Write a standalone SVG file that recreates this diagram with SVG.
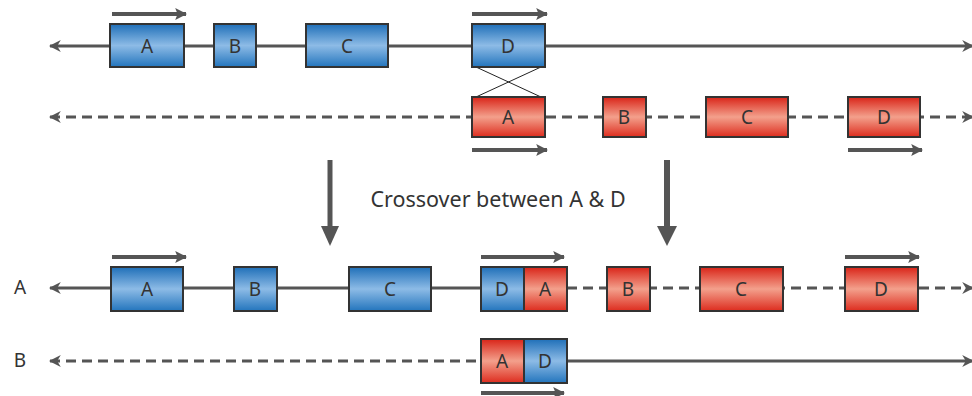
<svg xmlns="http://www.w3.org/2000/svg" width="972" height="396" viewBox="0 0 972 396">
  <defs>
    <linearGradient id="blueFill" x1="0" y1="0" x2="0" y2="1">
      <stop offset="0" stop-color="#1f6fb8"/>
      <stop offset="0.5" stop-color="#8dbbe6"/>
      <stop offset="1" stop-color="#2375bd"/>
    </linearGradient>
    <linearGradient id="redFill" x1="0" y1="0" x2="0" y2="1">
      <stop offset="0" stop-color="#d92418"/>
      <stop offset="0.5" stop-color="#f3a08c"/>
      <stop offset="1" stop-color="#dd2c1e"/>
    </linearGradient>
    <marker id="lineHead" viewBox="0 0 10 10" refX="9" refY="5" markerWidth="4" markerHeight="4" orient="auto-start-reverse" markerUnits="strokeWidth">
      <path d="M0,0 L10,5 L0,10 L3,5 Z" fill="#555"/>
    </marker>
    <marker id="dirHead" viewBox="0 0 10 10" refX="9" refY="5" markerWidth="3" markerHeight="3" orient="auto" markerUnits="strokeWidth">
      <path d="M0,0 L10,5 L0,10 L2,5 Z" fill="#555"/>
    </marker>
  </defs>
  <style>
    .strand { stroke: #555; stroke-width: 3; fill: none; }
    .dashed { stroke-dasharray: 10 6; }
    .dir { stroke: #555; stroke-width: 4; fill: none; marker-end: url(#dirHead); }
    .blue { fill: url(#blueFill); stroke: #333; stroke-width: 2; }
    .red { fill: url(#redFill); stroke: #333; stroke-width: 2; }
    .lbl { font-family: "Noto Sans", "Liberation Sans", sans-serif; font-size: 19px; fill: #333; text-anchor: middle; dominant-baseline: central; }
    .cap { font-family: "Noto Sans", "Liberation Sans", sans-serif; font-size: 21.5px; fill: #333; }
    .down { stroke: #555; fill: none; }
  </style>

  <!-- backbone strands and connectors -->
  <g id="connectors">
    <!-- parent 1 (solid) -->
    <line class="strand" x1="50" y1="46" x2="973" y2="46" marker-start="url(#lineHead)" marker-end="url(#lineHead)"/>
    <!-- parent 2 (dashed) -->
    <line class="strand dashed" x1="50" y1="117" x2="973" y2="117" marker-start="url(#lineHead)" marker-end="url(#lineHead)"/>
    <!-- crossover lines -->
    <line x1="476" y1="67" x2="541" y2="97" stroke="#222" stroke-width="1"/>
    <line x1="541" y1="67" x2="476" y2="97" stroke="#222" stroke-width="1"/>
    <!-- recombinant A -->
    <line class="strand" x1="50" y1="288" x2="481" y2="288" marker-start="url(#lineHead)"/>
    <line class="strand dashed" x1="567" y1="288" x2="973" y2="288" marker-end="url(#lineHead)"/>
    <!-- recombinant B -->
    <line class="strand dashed" x1="50" y1="361" x2="481" y2="361" marker-start="url(#lineHead)"/>
    <line class="strand" x1="567" y1="361" x2="973" y2="361" marker-end="url(#lineHead)"/>
    <!-- process arrows -->
    <line class="down" x1="330" y1="160" x2="330" y2="228" stroke-width="5"/>
    <path d="M321,226 L339,226 L330,246 Z" fill="#555"/>
    <line class="down" x1="667" y1="160" x2="667" y2="228" stroke-width="6"/>
    <path d="M657,226 L677,226 L667,246 Z" fill="#555"/>
    <!-- orientation arrows -->
    <line class="dir" x1="112" y1="14" x2="186" y2="14"/>
    <line class="dir" x1="472" y1="14" x2="547" y2="14"/>
    <line class="dir" x1="472" y1="150" x2="547" y2="150"/>
    <line class="dir" x1="848" y1="150" x2="922" y2="150"/>
    <line class="dir" x1="112" y1="257" x2="186" y2="257"/>
    <line class="dir" x1="481" y1="257" x2="564" y2="257"/>
    <line class="dir" x1="845" y1="257" x2="919" y2="257"/>
    <line class="dir" x1="481" y1="393" x2="564" y2="393"/>
  </g>

  <!-- parent 1 genes -->
  <g id="p1-A"><rect class="blue" x="110" y="24" width="74" height="43"/><text class="lbl" x="147" y="46">A</text></g>
  <g id="p1-B"><rect class="blue" x="214" y="24" width="42" height="43"/><text class="lbl" x="235" y="46">B</text></g>
  <g id="p1-C"><rect class="blue" x="306" y="24" width="82" height="43"/><text class="lbl" x="347" y="46">C</text></g>
  <g id="p1-D"><rect class="blue" x="472" y="24" width="73" height="43"/><text class="lbl" x="508" y="46">D</text></g>

  <!-- parent 2 genes -->
  <g id="p2-A"><rect class="red" x="472" y="97" width="73" height="40"/><text class="lbl" x="508" y="117">A</text></g>
  <g id="p2-B"><rect class="red" x="603" y="97" width="43" height="40"/><text class="lbl" x="624" y="117">B</text></g>
  <g id="p2-C"><rect class="red" x="706" y="97" width="82" height="40"/><text class="lbl" x="747" y="117">C</text></g>
  <g id="p2-D"><rect class="red" x="848" y="97" width="72" height="40"/><text class="lbl" x="884" y="117">D</text></g>

  <g id="caption"><text class="cap" x="498" y="207" text-anchor="middle">Crossover between A &amp; D</text></g>

  <!-- recombinant A -->
  <g id="label-A"><text class="lbl" x="20" y="287">A</text></g>
  <g id="rA-A"><rect class="blue" x="111" y="267" width="72" height="44"/><text class="lbl" x="147" y="289">A</text></g>
  <g id="rA-B"><rect class="blue" x="234" y="267" width="43" height="44"/><text class="lbl" x="255" y="289">B</text></g>
  <g id="rA-C"><rect class="blue" x="349" y="267" width="82" height="44"/><text class="lbl" x="390" y="289">C</text></g>
  <g id="rA-DA">
    <rect class="blue" x="481" y="267" width="43" height="44"/><text class="lbl" x="502" y="289">D</text>
    <rect class="red" x="524" y="267" width="43" height="44"/><text class="lbl" x="545" y="289">A</text>
  </g>
  <g id="rA-B2"><rect class="red" x="607" y="267" width="43" height="44"/><text class="lbl" x="628" y="289">B</text></g>
  <g id="rA-C2"><rect class="red" x="700" y="267" width="83" height="44"/><text class="lbl" x="741" y="289">C</text></g>
  <g id="rA-D2"><rect class="red" x="845" y="267" width="73" height="44"/><text class="lbl" x="881" y="289">D</text></g>

  <!-- recombinant B -->
  <g id="label-B"><text class="lbl" x="20" y="360">B</text></g>
  <g id="rB-AD">
    <rect class="red" x="481" y="339" width="43" height="44"/><text class="lbl" x="502" y="361">A</text>
    <rect class="blue" x="524" y="339" width="43" height="44"/><text class="lbl" x="545" y="361">D</text>
  </g>
</svg>
